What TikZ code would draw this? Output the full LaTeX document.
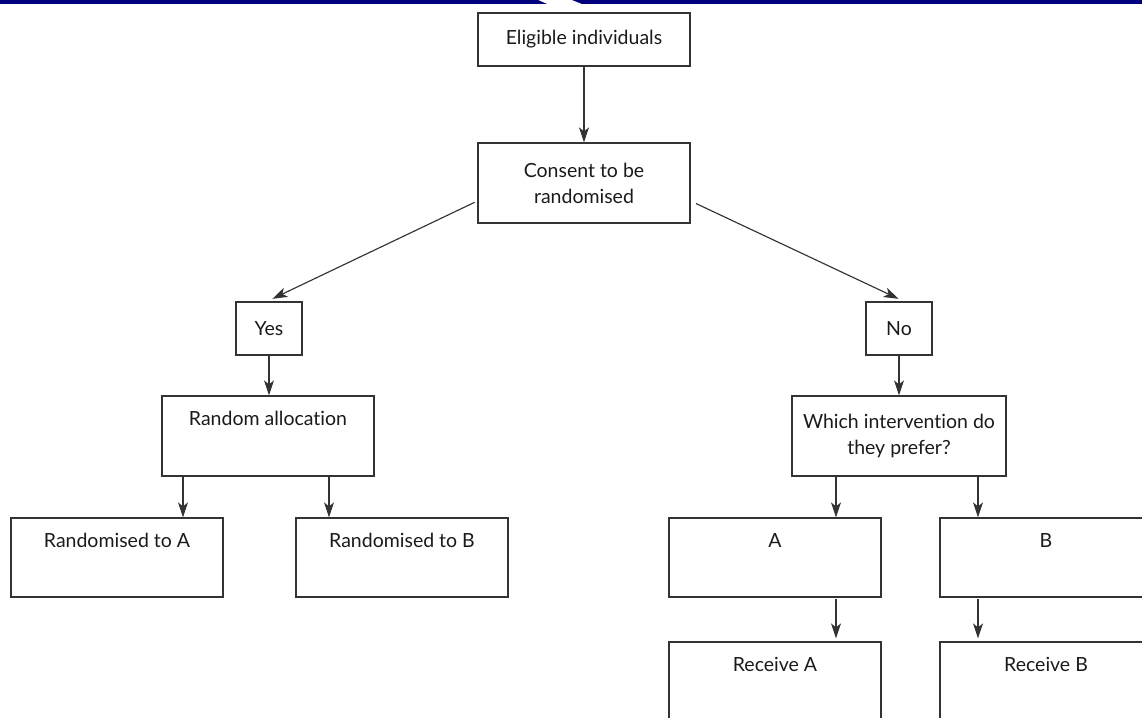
\documentclass[tikz,border=0pt]{standalone}
\usepackage{fontspec}
\setmainfont[Ligatures=NoCommon]{Lato}
\usetikzlibrary{arrows.meta}
\definecolor{linecol}{HTML}{333333}
\definecolor{txtcol}{HTML}{1A1A1A}
\definecolor{barblue}{HTML}{00007F}
\newcommand{\lblfont}{\fontsize{19.5}{26}\selectfont}
\tikzset{
  box/.style={draw=linecol, line width=1.25pt, rectangle, inner sep=0pt,
    minimum width=212pt, minimum height=80pt, text=txtcol, font=\lblfont, align=center},
  tiny/.style={box, minimum width=66pt, minimum height=53pt},
  toplabel/.style={label={[anchor=base, yshift=-30pt, text=txtcol, font=\lblfont, inner sep=0pt]north:#1}},
  arr/.style={draw=linecol, line width=1.15pt, -{Stealth[length=15pt,width=10pt,inset=4pt]}},
}
\begin{document}
\begin{tikzpicture}[x=1pt, y=-1pt]
\useasboundingbox (0,0) rectangle (1142,717);
\clip (0,0) rectangle (1142,717);

% banner strip along the top edge, with its slanted break
\fill[barblue] (0,0) -- (538,0) -- (547,4) -- (0,4) -- cycle;
\fill[barblue] (572,0) -- (1142,0) -- (1142,4) -- (582,4) -- cycle;

% boxes
\node[box, minimum height=53pt] (elig) at (584,39.5) {Eligible individuals};
\node[box] (consent) at (584,183) {Consent to be\\randomised};
\node[tiny] (yes) at (269,328.5) {Yes};
\node[tiny] (no) at (899,328.5) {No};
\node[box, toplabel={Random allocation}] (rand) at (268,436) {};
\node[box, minimum width=214pt] (which) at (899,436) {Which intervention do\\they prefer?};
\node[box, minimum height=79pt, toplabel={Randomised to A}] (ranA) at (117,557.5) {};
\node[box, minimum height=79pt, toplabel={Randomised to B}] (ranB) at (402,557.5) {};
\node[box, minimum height=79pt, toplabel={A}] (prefA) at (775,557.5) {};
\node[box, minimum height=79pt, toplabel={B}] (prefB) at (1046,557.5) {};
\node[box, minimum height=118pt, toplabel={Receive A}] (recA) at (775,701) {};
\node[box, minimum height=118pt, toplabel={Receive B}] (recB) at (1046,701) {};

% connectors
\draw[arr] (elig.south) -- (consent.north);
\draw[arr, shorten <=3pt, shorten >=6pt] ([yshift=-18pt]consent.west) -- ([xshift=-2pt]yes.north);
\draw[arr, shorten <=6pt, shorten >=6pt] ([yshift=-18pt]consent.east) -- ([xshift=5pt]no.north);
\draw[arr] (yes.south) -- (yes.south |- rand.north);
\draw[arr] (no.south) -- (no.south |- which.north);
\draw[arr] ([xshift=-85pt]rand.south) -- ([xshift=-85pt]rand.south |- ranA.north);
\draw[arr] ([xshift=61pt]rand.south) -- ([xshift=61pt]rand.south |- ranB.north);
\draw[arr] ([xshift=-63pt]which.south) -- ([xshift=-63pt]which.south |- prefA.north);
\draw[arr] ([xshift=79pt]which.south) -- ([xshift=79pt]which.south |- prefB.north);
\draw[arr, shorten <=1pt, shorten >=3pt] ([xshift=61pt]prefA.south) -- ([xshift=61pt]prefA.south |- recA.north);
\draw[arr, shorten <=1pt, shorten >=3pt] ([xshift=-68pt]prefB.south) -- ([xshift=-68pt]prefB.south |- recB.north);
\end{tikzpicture}
\end{document}
